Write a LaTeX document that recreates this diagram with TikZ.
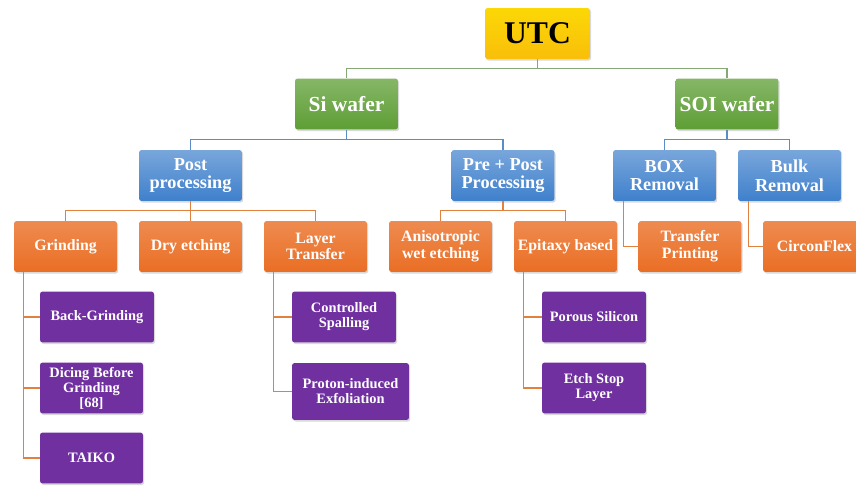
\documentclass[tikz,border=0pt]{standalone}
\usepackage{fontspec}
\setmainfont{Liberation Serif}
\usetikzlibrary{shadows}
\definecolor{utcgold}{HTML}{F9BE0A}
\definecolor{wafergreen}{HTML}{5E9E35}
\definecolor{methodblue}{HTML}{3F80CC}
\definecolor{steporange}{HTML}{EA6E24}
\definecolor{leafpurple}{HTML}{7030A0}
\definecolor{linegreen}{HTML}{86A877}
\definecolor{lineblue}{HTML}{5A8CC8}
\definecolor{lineorange}{HTML}{E0813F}

\begin{document}
\begin{tikzpicture}[x=0.02cm,y=-0.02cm,
    box/.style={rectangle,rounded corners=1.5pt,align=center,inner sep=1pt,
      minimum width=2.06cm,minimum height=1.02cm,text=white,
      drop shadow={opacity=.3,shadow xshift=.7pt,shadow yshift=-.9pt}},
    utcbox/.style={box,top color=utcgold!60!yellow,bottom color=utcgold,
      text=black,minimum width=2.1cm,font=\fontsize{18}{20}\selectfont\bfseries},
    waferbox/.style={box,top color=wafergreen!75!white,bottom color=wafergreen,
      font=\fontsize{12.2}{13}\selectfont\bfseries},
    methodbox/.style={box,top color=methodblue!70!white,bottom color=methodblue,
      font=\fontsize{10.4}{10.7}\selectfont\bfseries},
    stepbox/.style={box,top color=steporange!80!white,bottom color=steporange,
      font=\fontsize{9}{9.5}\selectfont\bfseries},
    leafbox/.style={box,fill=leafpurple,font=\fontsize{8.2}{8.5}\selectfont\bfseries},
    greenline/.style={draw=linegreen,line width=.7pt},
    blueline/.style={draw=lineblue,line width=.7pt},
    orangeline/.style={draw=lineorange,line width=.7pt}]
    \useasboundingbox (0,0) rectangle (856,486);
    % root and wafers
    \node[utcbox] (utc) at (537.5,33.5) {UTC};
    \node[waferbox] (si) at (346.5,104) {Si wafer};
    \node[waferbox] (soi) at (727,104) {SOI wafer};
    % processing routes
    \node[methodbox] (post) at (190.5,175.5) {Post\\processing};
    \node[methodbox] (prepost) at (503,175.5) {Pre + Post\\Processing};
    \node[methodbox] (boxrem) at (664.5,175.5) {BOX\\Removal};
    \node[methodbox] (bulk) at (789.5,175.5) {Bulk\\Removal};
    % thinning methods
    \node[stepbox] (grind) at (65.5,246.5) {Grinding};
    \node[stepbox] (dry) at (190.5,246.5) {Dry etching};
    \node[stepbox] (layer) at (315.5,246.5) {Layer\\Transfer};
    \node[stepbox] (aniso) at (440.5,246.5) {Anisotropic\\wet etching};
    \node[stepbox] (epi) at (565.5,246.5) {Epitaxy based};
    \node[stepbox] (transfer) at (690,246.5) {Transfer\\Printing};
    \node[stepbox] (circon) at (814.5,246.5) {CirconFlex};
    % variants
    \node[leafbox,minimum width=2.28cm] (back) at (97,317) {Back-Grinding};
    \node[leafbox] (dicing) at (91.5,388) {Dicing Before\\Grinding\\{[68]}};
    \node[leafbox] (taiko) at (91.5,458) {TAIKO};
    \node[leafbox,minimum width=2.08cm] (spall) at (344,317) {Controlled\\Spalling};
    \node[leafbox,minimum width=2.34cm,minimum height=1.14cm] (proton) at (350.5,391.5)
      {Proton-induced\\Exfoliation};
    \node[leafbox,minimum width=2.08cm] (porous) at (594,317) {Porous Silicon};
    \node[leafbox,minimum width=2.08cm] (etch) at (594,388) {Etch Stop\\Layer};
    % connectors
    \draw[greenline] (utc.south) -- ++(0,9) -| (si.north);
    \draw[greenline] (utc.south) -- ++(0,9) -| (soi.north);
    \draw[blueline] (si.south) -- ++(0,10) -| (post.north);
    \draw[blueline] (si.south) -- ++(0,10) -| (prepost.north);
    \draw[blueline] (soi.south) -- ++(0,10) -| (boxrem.north);
    \draw[blueline] (soi.south) -- ++(0,10) -| (bulk.north);
    \foreach \step in {grind,dry,layer}
      \draw[orangeline] (post.south) -- ++(0,9) -| (\step.north);
    \foreach \step in {aniso,epi}
      \draw[orangeline] (prepost.south) -- ++(0,9) -| (\step.north);
    \draw[orangeline] (boxrem.south west) ++(11,0) |- (transfer.west);
    \draw[orangeline] (bulk.south west) ++(11,0) |- (circon.west);
    \foreach \leaf in {back,dicing,taiko}
      \draw[orangeline] (grind.south west) ++(10,0) |- (\leaf.west);
    \foreach \leaf in {spall,proton}
      \draw[orangeline] (layer.south west) ++(10,0) |- (\leaf.west);
    \foreach \leaf in {porous,etch}
      \draw[orangeline] (epi.south west) ++(10,0) |- (\leaf.west);
  \end{tikzpicture}
\end{document}
